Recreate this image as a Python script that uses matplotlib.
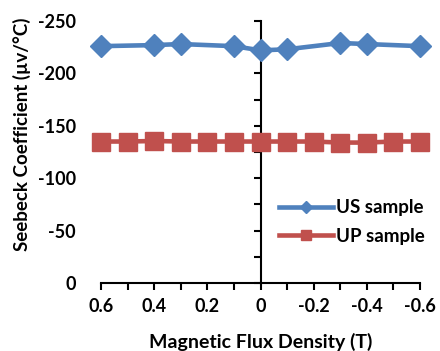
import matplotlib
matplotlib.use("Agg")
import matplotlib.pyplot as plt
from matplotlib.ticker import MultipleLocator, FuncFormatter, NullFormatter

plt.rcParams['font.family'] = ['Lato', 'DejaVu Sans']
plt.rcParams['font.weight'] = 'bold'
plt.rcParams['axes.unicode_minus'] = False

us_x = [0.6, 0.4, 0.3, 0.1, 0.0, -0.1, -0.3, -0.4, -0.6]
us_y = [-226, -227, -228, -226, -222, -223, -229, -228, -226]
up_x = [0.6, 0.5, 0.4, 0.3, 0.2, 0.1, 0.0, -0.1, -0.2, -0.3, -0.4, -0.5, -0.6]
up_y = [-135, -135, -135.5, -135, -135, -135, -135, -135, -135, -134, -134, -135, -135]

fig = plt.figure(figsize=(4.4, 3.51), dpi=100)
ax = fig.add_axes([101/440, 1-283/351, (420-101)/440, (283-21)/351])

blue = '#4F81BD'
red = '#C0504D'
ax.plot(us_x, us_y, color=blue, lw=3.3, marker='D', ms=11, clip_on=False, label='US sample', zorder=3)
ax.plot(up_x, up_y, color=red, lw=3.3, marker='s', ms=13, clip_on=False, label='UP sample', zorder=3)

ax.set_xlim(0.6, -0.6)
ax.set_ylim(0, -250)

for s in ['top', 'right', 'left']:
    ax.spines[s].set_visible(False)
ax.spines['bottom'].set_linewidth(1.5)

ax.xaxis.set_major_locator(MultipleLocator(0.2))
ax.xaxis.set_minor_locator(MultipleLocator(0.1))
ax.xaxis.set_major_formatter(FuncFormatter(lambda v, p: '0' if abs(v) < 1e-9 else f'{v:.1f}'))
ax.tick_params(axis='x', which='both', direction='out', length=5, width=1.5, labelsize=13, pad=6)

ax.yaxis.set_major_locator(MultipleLocator(50))
ax.tick_params(axis='y', which='both', length=0, labelsize=13, pad=18)

sec = ax.secondary_yaxis(0.5)
sec.set_alignment('left')
sec.yaxis.set_major_locator(MultipleLocator(25))
sec.yaxis.set_major_formatter(NullFormatter())
sec.tick_params(axis='y', which='both', direction='out', length=5, width=1.5,
                labelleft=False, labelright=False)
sec.spines['left'].set_linewidth(1.5)

fig.text(22/440, 1-134/351, 'Seebeck Coefficient (µv/°C)', rotation=90, ha='center', va='center', fontsize=13.5, fontweight='bold')
fig.text(261/440, 1-342/351, 'Magnetic Flux Density (T)', ha='center', va='center', fontsize=14, fontweight='bold')

leg = ax.legend(loc='center left', bbox_to_anchor=(262/440, 1-222/351), bbox_transform=fig.transFigure,
                frameon=False, fontsize=13.5, handlelength=2.9, handletextpad=0.15, labelspacing=0.6, markerscale=0.6)

fig.savefig('out.png', dpi=100)
